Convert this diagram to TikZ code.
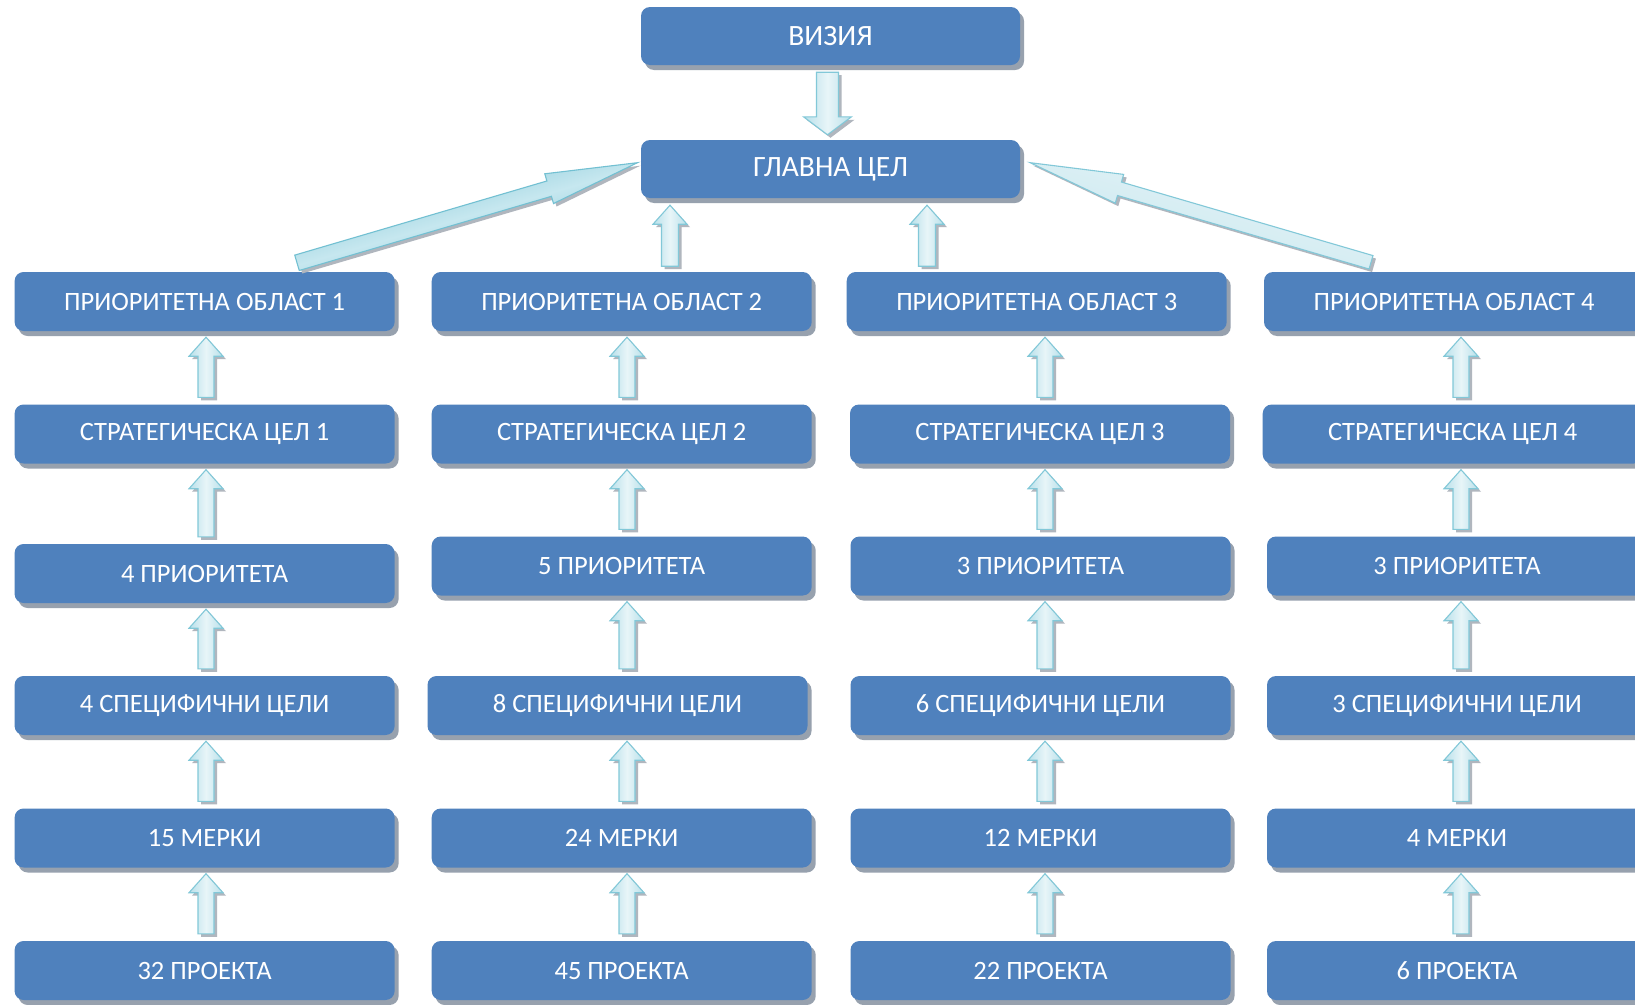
\documentclass[tikz,border=0pt]{standalone}
\usepackage{fontspec}
\setmainfont{Carlito}
\usetikzlibrary{calc,shadows}
\definecolor{boxblue}{HTML}{4F81BD}
\definecolor{boxshadow}{HTML}{97A1AE}
\definecolor{arrline}{HTML}{82C8D8}
\definecolor{arrlight}{HTML}{E8F5F8}
\definecolor{arrmid}{HTML}{B8E0EA}
\definecolor{arrdark}{HTML}{72C0D2}
\definecolor{arrsoft}{HTML}{C6E7EF}
\definecolor{arrshadow}{HTML}{B0B6BE}
\tikzset{
  box/.style={rectangle, rounded corners=9pt, fill=boxblue, text=white,
    minimum width=380pt, minimum height=59pt, inner sep=0pt,
    font=\fontsize{26.5}{31}\selectfont,
    general shadow={fill=boxshadow, shadow xshift=4pt, shadow yshift=-5pt}},
  topbox/.style={box, minimum width=379pt, minimum height=58pt, font=\fontsize{29.5}{34}\selectfont},
  uparrow/.style={draw=arrline, line width=1.1pt, left color=arrmid, right color=arrmid, middle color=arrlight},
  bigleft/.style={draw=arrdark, line width=1.1pt, left color=arrdark, right color=arrdark, middle color=arrsoft, shading angle=16},
  bigright/.style={draw=arrline, line width=1.1pt, left color=arrlight, right color=arrmid!70!arrlight, shading angle=-16},
}
% #1 style, #2 from, #3 to, #4 shaft half width, #5 head half width, #6 head length
\newcommand\fatarrow[6][]{%
  \path #2 coordinate (fatS);
  \path #3 coordinate (fatT);
  \path ($(fatT)!#6!(fatS)$) coordinate (fatH);
  \fill[arrshadow, transform canvas={shift={(3pt,-3pt)}}]
    ($(fatS)!#4!90:(fatT)$) -- ($(fatH)!#4!-90:(fatS)$) -- ($(fatH)!#5!-90:(fatS)$) -- (fatT)
    -- ($(fatH)!#5!90:(fatS)$) -- ($(fatH)!#4!90:(fatS)$) -- ($(fatS)!#4!-90:(fatT)$) -- cycle;
  \draw[#1]
    ($(fatS)!#4!90:(fatT)$) -- ($(fatH)!#4!-90:(fatS)$) -- ($(fatH)!#5!-90:(fatS)$) -- (fatT)
    -- ($(fatH)!#5!90:(fatS)$) -- ($(fatH)!#4!90:(fatS)$) -- ($(fatS)!#4!-90:(fatT)$) -- cycle;
}
\begin{document}
\begin{tikzpicture}[x=1pt,y=-1pt]
\useasboundingbox (0,0) rectangle (1635,1004);
\clip (0,0) rectangle (1635,1004);
\fill[white] (0,0) rectangle (1635,1004);

\node[topbox] (vis) at (830.5,36) {\raisebox{-5pt}{ВИЗИЯ}};
\node[topbox] (gl) at (830.5,169) {\raisebox{-5pt}{ГЛАВНА ЦЕЛ}};

% row 1
\node[box] (r1c1) at (204.6,301.5) {ПРИОРИТЕТНА ОБЛАСТ 1};
\node[box] (r1c2) at (621.7,301.5) {ПРИОРИТЕТНА ОБЛАСТ 2};
\node[box] (r1c3) at (1036.7,301.5) {ПРИОРИТЕТНА ОБЛАСТ 3};
\node[box] (r1c4) at (1454,301.5) {ПРИОРИТЕТНА ОБЛАСТ 4};
% row 2
\node[box] (r2c1) at (204.6,434) {СТРАТЕГИЧЕСКА ЦЕЛ 1};
\node[box] (r2c2) at (621.7,434) {СТРАТЕГИЧЕСКА ЦЕЛ 2};
\node[box] (r2c3) at (1040,434) {СТРАТЕГИЧЕСКА ЦЕЛ 3};
\node[box] (r2c4) at (1452.7,434) {СТРАТЕГИЧЕСКА ЦЕЛ 4};
% row 3
\node[box] (r3c1) at (204.6,573.5) {4 ПРИОРИТЕТА};
\node[box] (r3c2) at (621.7,566) {5 ПРИОРИТЕТА};
\node[box] (r3c3) at (1040.5,566) {3 ПРИОРИТЕТА};
\node[box] (r3c4) at (1457,566) {3 ПРИОРИТЕТА};
% row 4
\node[box] (r4c1) at (204.6,705.5) {4 СПЕЦИФИЧНИ ЦЕЛИ};
\node[box] (r4c2) at (617.5,705.5) {8 СПЕЦИФИЧНИ ЦЕЛИ};
\node[box] (r4c3) at (1040.5,705.5) {6 СПЕЦИФИЧНИ ЦЕЛИ};
\node[box] (r4c4) at (1457,705.5) {3 СПЕЦИФИЧНИ ЦЕЛИ};
% row 5
\node[box] (r5c1) at (204.6,838) {15 МЕРКИ};
\node[box] (r5c2) at (621.7,838) {24 МЕРКИ};
\node[box] (r5c3) at (1040.5,838) {12 МЕРКИ};
\node[box] (r5c4) at (1457,838) {4 МЕРКИ};
% row 6
\node[box] (r6c1) at (204.6,970.5) {32 ПРОЕКТА};
\node[box] (r6c2) at (621.7,970.5) {45 ПРОЕКТА};
\node[box] (r6c3) at (1040.5,970.5) {22 ПРОЕКТА};
\node[box] (r6c4) at (1457,970.5) {6 ПРОЕКТА};

% vision -> main goal
\fatarrow[uparrow]{($(vis.south)+(-3,7)$)}{($(gl.north)+(-3,-5)$)}{11pt}{24pt}{18pt}
% area 2, 3 -> main goal
\fatarrow[uparrow]{($(gl.south)+(-160.5,68)$)}{($(gl.south)+(-160.5,7)$)}{8.5pt}{17pt}{19pt}
\fatarrow[uparrow]{($(gl.south)+(96.5,68)$)}{($(gl.south)+(96.5,7)$)}{8.5pt}{17pt}{19pt}
% area 1, 4 -> main goal
\fatarrow[bigleft]{($(r1c1.north)+(92.4,-9)$)}{($(gl.west)+(-3.4,-6.3)$)}{8pt}{15.5pt}{92pt}
\fatarrow[bigright]{($(r1c4.north)+(-83,-9.5)$)}{($(gl.east)+(10,-6.3)$)}{7pt}{15pt}{93pt}

% column arrows
\coordinate (ax1) at (206,0);
\coordinate (ax2) at (627,0);
\coordinate (ax3) at (1045,0);
\coordinate (ax4) at (1461,0);
\foreach \c in {1,2,3,4}{
  \foreach \r [count=\u] in {2,...,6}{
    \fatarrow[uparrow]{($(ax\c |- r\r c\c.north)+(0,-7)$)}{($(ax\c |- r\u c\c.south)+(0,6)$)}{8pt}{17pt}{19pt}
  }
}
\end{tikzpicture}
\end{document}
